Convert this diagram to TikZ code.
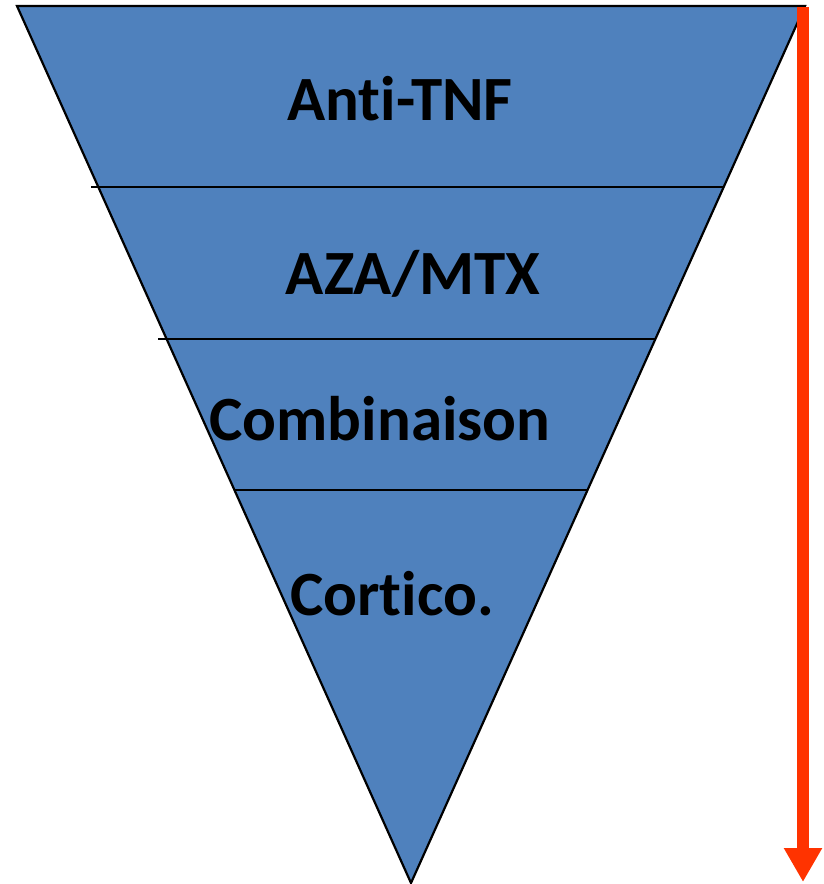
\documentclass[tikz,border=0pt]{standalone}
\usepackage{fontspec}
\setmainfont{Carlito}[Ligatures=NoCommon]
\usetikzlibrary{arrows.meta}
\definecolor{funnelblue}{HTML}{4F81BD}
\definecolor{arrowred}{HTML}{FF3300}
\tikzset{
  level/.style={font=\fontsize{63}{65}\selectfont\bfseries, anchor=base, inner sep=0pt},
  divider/.style={line width=1.6pt, black}
}
\begin{document}
\begin{tikzpicture}[x=1pt, y=-1pt]
      \useasboundingbox (0,0) rectangle (823,884);
      % funnel
      \draw[fill=funnelblue, line width=2.2pt, line join=miter]
        (17,6) -- (805,6) -- (411,883) -- cycle;
      % dividers
      \coordinate (d1l) at (91,187);
      \coordinate (d1r) at (723,187);
      \coordinate (d2l) at (158,339);
      \coordinate (d2r) at (655,339);
      \coordinate (d3l) at (234,490);
      \coordinate (d3r) at (587,490);
      \begin{scope}[divider]
        \draw (d1l) to (d1r);
        \draw (d2l) to (d2r);
        \draw (d3l) to (d3r);
      \end{scope}
      % labels
      \node[level] (tnf) at (400,120) {Anti-TNF};
      \node[level] (aza) at (413,294) {AZA/MTX};
      \node[level] (comb) at (380,440) {Combinaison};
      \node[level] (cort) at (392,615) {Cortico.};
      % arrow
      \coordinate (top) at (803,7);
      \coordinate (bot) at (803,882);
      \draw[arrowred, line width=12pt, -{Triangle[length=34pt, width=36pt]}]
        (top) to (bot);
    \end{tikzpicture}
\end{document}
